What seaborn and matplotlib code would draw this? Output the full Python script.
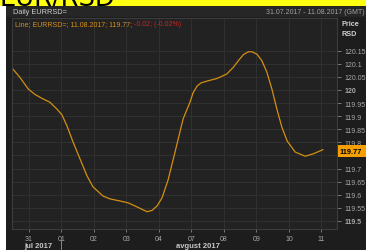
import numpy as np
import pandas as pd
import matplotlib
matplotlib.use("Agg")
import matplotlib.pyplot as plt
import seaborn as sns
from matplotlib.patches import Rectangle
from matplotlib.lines import Line2D

# ---------------- data ----------------
# position in trading-day units (0 = 31 Jul ... 9 = 11 Aug), price in RSD
t = [-0.514, -0.277, -0.022, 0.185, 0.431, 0.647, 0.862, 1.016, 1.170, 1.355,
     1.571, 1.787, 1.971, 2.279, 2.495, 2.803, 3.049, 3.265, 3.449, 3.634,
     3.788, 3.942, 4.096, 4.281, 4.496, 4.743, 4.958, 5.051, 5.174, 5.297,
     5.482, 5.790, 6.089, 6.292, 6.446, 6.600, 6.754, 6.859, 7.013, 7.167,
     7.321, 7.475, 7.629, 7.783, 7.946, 8.192, 8.500, 8.747, 9.045]
price = [120.083, 120.048, 120.004, 119.983, 119.966, 119.953, 119.927, 119.905, 119.863, 119.802,
         119.737, 119.672, 119.630, 119.595, 119.584, 119.576, 119.569, 119.557, 119.546, 119.535,
         119.540, 119.557, 119.588, 119.656, 119.763, 119.889, 119.954, 119.989, 120.015, 120.027,
         120.034, 120.044, 120.061, 120.087, 120.112, 120.135, 120.146, 120.146, 120.137, 120.112,
         120.068, 120.004, 119.927, 119.858, 119.805, 119.763, 119.747, 119.756, 119.772]

day_labels = ["31", "01", "02", "03", "04", "07", "08", "09", "10", "11"]
ytick_vals = [119.5, 119.55, 119.6, 119.65, 119.7, 119.75, 119.8, 119.85, 119.9,
              119.95, 120.0, 120.05, 120.1, 120.15]
ytick_labels = ["119.5", "119.55", "119.6", "119.65", "119.7", "", "119.8", "119.85",
                "119.9", "119.95", "120", "120.05", "120.1", "120.15"]
last_value = "119.77"
title = "EUR/RSD"

df = pd.DataFrame({"t": t, "price": price})

# ---------------- figure ----------------
W, H = 366, 251
plt.rcParams["font.family"] = ["Liberation Sans", "DejaVu Sans"]
fig = plt.figure(figsize=(W / 100, H / 100), dpi=100, facecolor="#1d1d1d")


def fx(x):
    return x / W


def fy(y):
    return 1 - y / H


def rect(x0, y0, x1, y1, color, z=0.5):
    r = Rectangle((fx(x0), fy(y1)), fx(x1) - fx(x0), fy(y0) - fy(y1),
                  transform=fig.transFigure, facecolor=color,
                  edgecolor="none", zorder=z)
    fig.add_artist(r)
    return r


# top yellow band, white left strip, header bar
band = rect(0, 0, W, 6.5, "#ffff10", z=0.5)
rect(0, 6.5, 6, H, "#ffffff", z=0.5)
rect(6, 6.5, W, 17.5, "#262626", z=0.4)
ttl = fig.text(fx(-1), fy(6.2), title, fontsize=18.5, color="black", ha="left",
               va="baseline", family=["DejaVu Sans"], zorder=1)
ttl.set_clip_path(band)

# plot area
ax = fig.add_axes([fx(11.7), fy(230), fx(336.7) - fx(11.7), fy(18.7) - fy(230)])
ax.set_facecolor("#222222")
sns.lineplot(data=df, x="t", y="price", ax=ax, color="#d38f12", linewidth=0.9,
             estimator=None)
ax.set_xlim(-0.53, 9.47)
ax.set_ylim(119.469, 120.276)
ax.set_xlabel("")
ax.set_ylabel("")

ax.set_xticks(range(len(day_labels)))
ax.set_xticklabels(day_labels)
ax.yaxis.tick_right()
ax.set_yticks(ytick_vals)
labels = ax.set_yticklabels(ytick_labels)
for lab in labels:
    if lab.get_text() in ("120", "119.5"):
        lab.set_fontweight("bold")
        lab.set_color("#dcdcdc")

ax.tick_params(axis="y", direction="out", length=3, width=0.6, color="#8a8a8a",
               pad=2.5, labelsize=5, labelcolor="#a8a8a8")
ax.tick_params(axis="x", direction="out", length=2, width=0.6, color="#8a8a8a",
               pad=2, labelsize=5, labelcolor="#a8a8a8")
ax.grid(True, color="#303030", linewidth=0.8)
ax.set_axisbelow(True)
for s in ax.spines.values():
    s.set_color("#3c3c3c")
    s.set_linewidth(0.8)

# header texts
fig.text(fx(12.5), fy(12.5), "Daily EURRSD=", fontsize=5.3, color="#cfcfcf",
         ha="left", va="center")
fig.text(fx(365), fy(12.5), "31.07.2017 - 11.08.2017 (GMT)", fontsize=5,
         color="#a0a0a0", ha="right", va="center")

# legend line inside the plot
t1 = fig.text(fx(15), fy(25), "Line; EURRSD=; 11.08.2017; 119.77; ", fontsize=5,
              color="#d8901a", ha="left", va="center")
fig.canvas.draw()
bb = t1.get_window_extent()
fig.text(bb.x1 / W, fy(25), "-0.02; (-0.02%)", fontsize=5, color="#d42020",
         ha="left", va="center")

# axis title on the right
fig.text(fx(341), fy(24), "Price", fontsize=5.2, color="#d0d0d0", ha="left",
         va="center", fontweight="bold")
fig.text(fx(341), fy(34.5), "RSD", fontsize=5.2, color="#d0d0d0", ha="left",
         va="center", fontweight="bold")

# last value badge
rect(338, 146, W, 158, "#f5a000", z=3)
fig.text(fx(339.5), fy(152), last_value, fontsize=5.3, color="black",
         ha="left", va="center", fontweight="bold", zorder=4)

# month labels
fig.text(fx(38), fy(246.5), "jul 2017", fontsize=5.5, color="#c8c8c8",
         ha="center", va="center", fontweight="bold")
fig.text(fx(198), fy(246.5), "avgust 2017", fontsize=5.5, color="#c8c8c8",
         ha="center", va="center", fontweight="bold")
fig.add_artist(Line2D([fx(61), fx(61)], [fy(241), fy(251)], transform=fig.transFigure,
                      color="#9a9a9a", linewidth=0.6))

fig.savefig("out.png", dpi=100, facecolor=fig.get_facecolor())
